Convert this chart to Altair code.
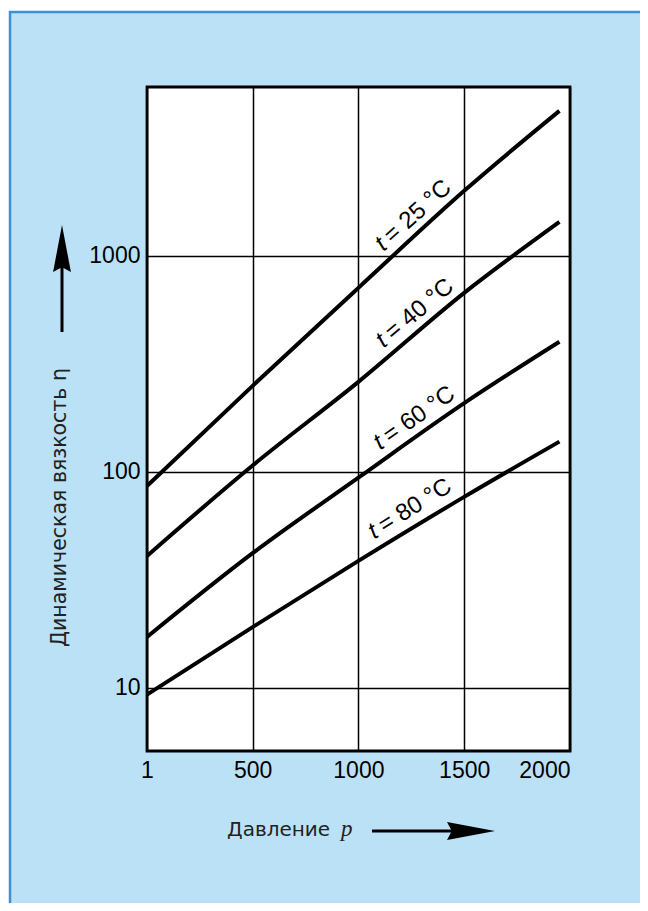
import altair as alt
import pandas as pd

# ---- data ----
pressure = [1, 500, 1000, 1500, 1950]
eta_25 = [86, 250, 711, 2000, 4690]
eta_40 = [40.8, 107, 261, 674, 1436]
eta_60 = [17.2, 42, 94, 208, 400]
eta_80 = [9.3, 19.1, 38.7, 76.6, 138]
series = ["25", "40", "60", "80"]

label_p = [1150, 1150, 1130, 1100]
label_eta = [963, 343, 115, 44.4]
label_angle = [318, 320, 325, 328]
label_text = ["= 25 °C", "= 40 °C", "= 60 °C", "= 80 °C"]

x_ticks = [1, 500, 1000, 1500, 2000]
y_ticks = [10, 100, 1000]

x_title = "Давление"
x_symbol = "p"
y_title = "Динамическая вязкость η"

# ---- tables ----
rows = []
for name, vals in zip(series, [eta_25, eta_40, eta_60, eta_80]):
    for p, v in zip(pressure, vals):
        rows.append({"t": name, "p": p, "eta": v})
curves = pd.DataFrame(rows)
labels = pd.DataFrame({"t": series, "p": label_p, "eta": label_eta,
                       "angle": label_angle, "txt": label_text})
one = pd.DataFrame({"a": [0]})

W, H = 423, 664
BLUE = "#bbe1f6"
FONT = "Liberation Sans"

xs = alt.Scale(domain=[1, 2000], nice=False, zero=False)
ys = alt.Scale(type="log", domain=[5.1, 6050], nice=False)

xaxis = alt.Axis(values=x_ticks, format="d", grid=True, gridColor="black",
                 gridWidth=1.5, gridOpacity=1, ticks=False, domain=False,
                 labelFont=FONT, labelFontSize=23, labelColor="black",
                 labelPadding=8, labelFlush=False, labelOverlap=False,
                 labelAlign={"condition": {"test": "datum.value >= 2000", "value": "right"},
                             "value": "center"},
                 title=None, zindex=1)
yaxis = alt.Axis(values=y_ticks, format="d", grid=True, gridColor="black",
                 gridWidth=1.5, gridOpacity=1, ticks=False, domain=False,
                 labelFont=FONT, labelFontSize=23, labelColor="black",
                 labelPadding=7, labelBaseline="middle", labelOverlap=False,
                 title=None, zindex=1)

panel = alt.Chart(one).mark_rect(fill=BLUE, stroke="#3f8fd6", strokeWidth=2.5).encode(
    x=alt.value(-137), x2=alt.value(520), y=alt.value(-75), y2=alt.value(850))

frame = alt.Chart(one).mark_rect(fill="white", stroke="black", strokeWidth=2.8).encode(
    x=alt.value(0), x2=alt.value(W), y=alt.value(0), y2=alt.value(H))

lines = alt.Chart(curves).mark_line(color="black", strokeWidth=4, interpolate="monotone").encode(
    x=alt.X("p:Q", scale=xs, axis=xaxis),
    y=alt.Y("eta:Q", scale=ys, axis=yaxis),
    detail="t:N")

lab_t = alt.Chart(labels).mark_text(text="t", font=FONT, fontStyle="italic", fontSize=24,
                                    align="left", baseline="alphabetic", dx=0, dy=-10,
                                    color="black").encode(
    x=alt.X("p:Q", scale=xs), y=alt.Y("eta:Q", scale=ys),
    angle=alt.Angle("angle:Q", scale=None))

lab_rest = alt.Chart(labels).mark_text(font=FONT, fontSize=24, align="left",
                                       baseline="alphabetic", dx=12, dy=-10,
                                       color="black").encode(
    x=alt.X("p:Q", scale=xs), y=alt.Y("eta:Q", scale=ys),
    text="txt:N", angle=alt.Angle("angle:Q", scale=None))

xt = alt.Chart(one).mark_text(text=x_title, font="DejaVu Sans", fontSize=20, align="left",
                              baseline="alphabetic", color="#222").encode(
    x=alt.value(80), y=alt.value(749))
xp = alt.Chart(one).mark_text(text=x_symbol, font="Liberation Serif", fontStyle="italic",
                              fontSize=23, align="left", baseline="alphabetic",
                              color="#222").encode(
    x=alt.value(194), y=alt.value(749))
yt = alt.Chart(one).mark_text(text=y_title, font="DejaVu Sans", fontSize=20.5, align="left",
                              baseline="alphabetic", angle=270, color="#222").encode(
    x=alt.value(-81), y=alt.value(560))

x_shaft = alt.Chart(one).mark_rule(color="black", strokeWidth=3).encode(
    x=alt.value(225), x2=alt.value(305), y=alt.value(744))
x_head = alt.Chart(one).mark_point(shape="M1,0L-1,-0.375L-0.8,0L-1,0.375Z", size=2304,
                                   filled=True, color="black", opacity=1).encode(
    x=alt.value(324), y=alt.value(744))
y_shaft = alt.Chart(one).mark_rule(color="black", strokeWidth=3).encode(
    x=alt.value(-85), y=alt.value(178), y2=alt.value(245))
y_head = alt.Chart(one).mark_point(shape="M0,-1L0.38,1L0,0.8L-0.38,1Z", size=2209,
                                   filled=True, color="black", opacity=1).encode(
    x=alt.value(-85), y=alt.value(161.5))

chart = alt.layer(panel, frame, lines, lab_t, lab_rest, xt, xp, yt,
                  x_shaft, x_head, y_shaft, y_head).properties(
    width=W, height=H,
    autosize=alt.AutoSizeParams(type="none"),
    padding={"left": 139, "top": 79, "right": 70, "bottom": 152},
).configure(background="white").configure_view(stroke=None)

chart.save("out.html", embed_options={"renderer": "svg", "actions": False})
